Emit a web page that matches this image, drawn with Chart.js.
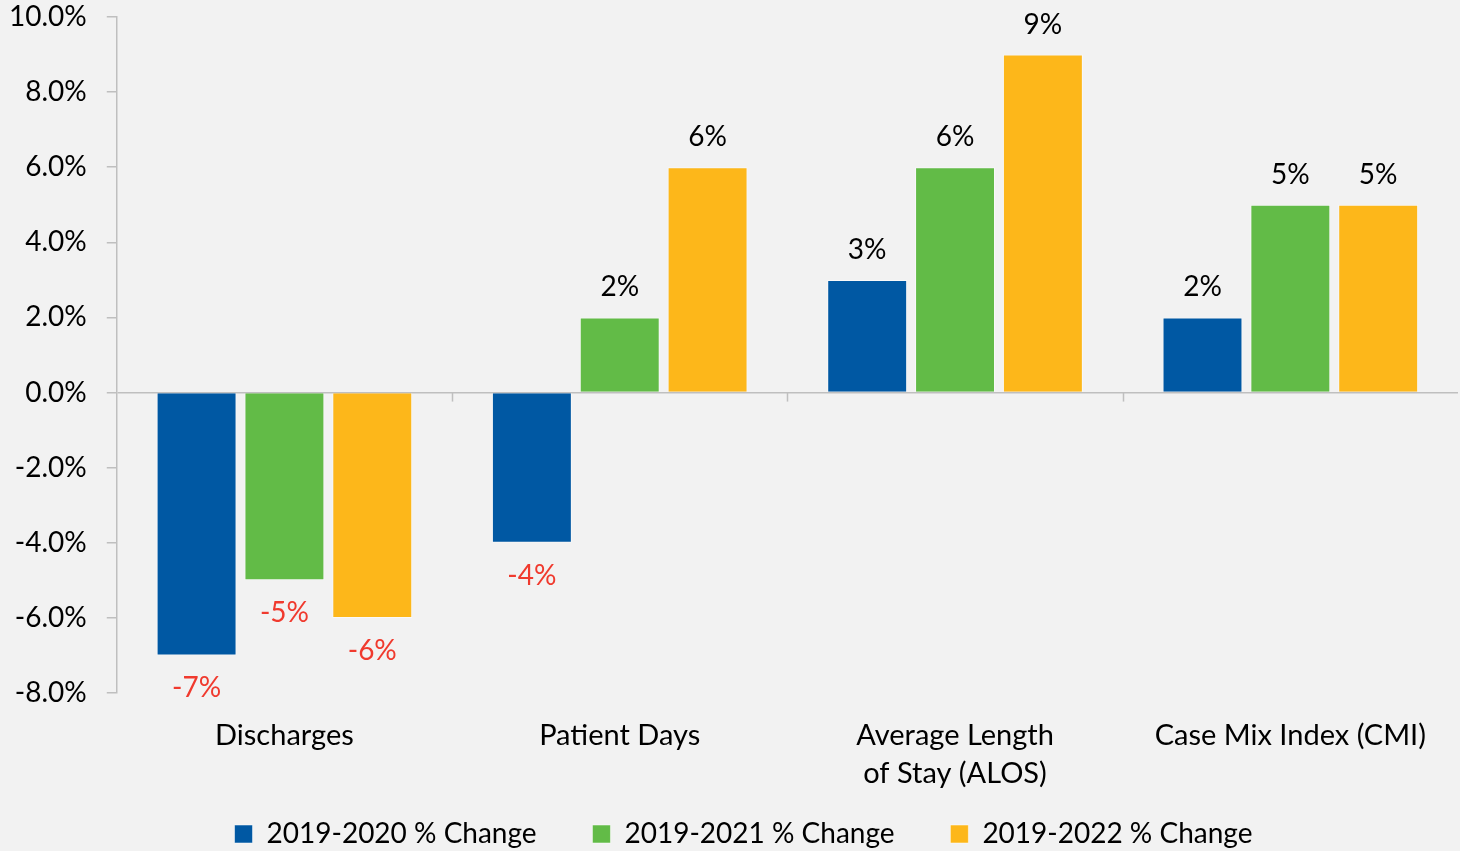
<!DOCTYPE html>
<html>
<head>
<meta charset="utf-8">
<script src="https://cdn.jsdelivr.net/npm/chart.js"></script>
<style>
  html, body { margin: 0; padding: 0; background: #f2f2f2; }
  #wrap { width: 1460px; height: 851px; }
</style>
</head>
<body>
<div id="wrap"><canvas id="myChart"></canvas></div>
<script>
let categories = ['Discharges', 'Patient Days', ['Average Length', 'of Stay (ALOS)'], 'Case Mix Index (CMI)'];
let seriesNames = ['2019-2020 % Change', '2019-2021 % Change', '2019-2022 % Change'];
let change2020 = [-7, -4, 3, 2];
let change2021 = [-5, 2, 6, 5];
let change2022 = [-6, 6, 9, 5];
let yTicks = [-8, -6, -4, -2, 0, 2, 4, 6, 8, 10];

let colorHex = ['#0058a3', '#62bb47', '#fdb71a'];
let fontFamily = 'Lato, "Open Sans", sans-serif';

// draws value labels and the category tick marks on the zero line
let labelPlugin = {
    id: 'valueLabels',
    afterLayout(chart) {
        // legend sits a bit right of the canvas centre in the original
        chart.legend.left += 20;
        chart.legend.right += 20;
    },
    afterDatasetsDraw(chart) {
        let ctx = chart.ctx;
        let x = chart.scales.x;
        let y = chart.scales.y;
        let zero = y.getPixelForValue(0);
        ctx.save();
        ctx.strokeStyle = '#bfbfbf';
        ctx.lineWidth = 1.5;
        for (let i = 0; i < categories.length - 1; i++) {
            let px = Math.round((x.getPixelForTick(i) + x.getPixelForTick(i + 1)) / 2) + 0.5;
            ctx.beginPath();
            ctx.moveTo(px, zero);
            ctx.lineTo(px, zero + 9);
            ctx.stroke();
        }
        ctx.font = '28px ' + fontFamily;
        ctx.textAlign = 'center';
        ctx.textBaseline = 'middle';
        chart.data.datasets.forEach((ds, di) => {
            let meta = chart.getDatasetMeta(di);
            meta.data.forEach((bar, i) => {
                let v = ds.data[i];
                if (v >= 0) {
                    ctx.fillStyle = '#000000';
                    ctx.fillText(v + '%', bar.x, bar.y - 30);
                } else {
                    ctx.fillStyle = '#f03a2e';
                    ctx.fillText(v + '%', bar.x, bar.y + 33);
                }
            });
        });
        ctx.restore();
    }
};

let myChart = document.getElementById('myChart').getContext('2d');
let chart = new Chart(myChart, {
    type: 'bar',
    data: {
        labels: categories,
        datasets: [
            {
                label: seriesNames[0],
                data: change2020,
                backgroundColor: colorHex[0],
                borderColor: 'rgba(255,255,255,0.5)',
                borderWidth: 1
            },
            {
                label: seriesNames[1],
                data: change2021,
                backgroundColor: colorHex[1],
                borderColor: 'rgba(255,255,255,0.5)',
                borderWidth: 1
            },
            {
                label: seriesNames[2],
                data: change2022,
                backgroundColor: colorHex[2],
                borderColor: 'rgba(255,255,255,0.5)',
                borderWidth: 1
            }
        ]
    },
    options: {
        responsive: true,
        maintainAspectRatio: false,
        animation: false,
        categoryPercentage: 0.786,
        barPercentage: 0.91,
        layout: {
            padding: { left: -11, right: 2, top: 0, bottom: -7 }
        },
        plugins: {
            legend: {
                position: 'bottom',
                labels: {
                    color: '#000000',
                    font: { family: fontFamily, size: 28 },
                    boxWidth: 18,
                    boxHeight: 18,
                    padding: 20,
                    generateLabels(chart) {
                        let items = Chart.defaults.plugins.legend.labels.generateLabels(chart);
                        items.forEach((item, i) => {
                            if (i < items.length - 1) item.text += '     ';
                        });
                        return items;
                    }
                }
            },
            tooltip: { enabled: false }
        },
        scales: {
            x: {
                grid: { display: false },
                border: { display: false },
                afterFit(scale) {
                    scale.height -= 9;
                },
                ticks: {
                    color: '#000000',
                    font: { family: fontFamily, size: 29, lineHeight: '38px' },
                    padding: 16,
                    maxRotation: 0
                }
            },
            y: {
                min: -8,
                max: 10,
                afterBuildTicks(axis) {
                    axis.ticks = yTicks.map(v => ({ value: v }));
                },
                afterFit(scale) {
                    scale.paddingTop = 17;
                },
                grid: {
                    color: c => c.tick && c.tick.value === 0 ? '#bfbfbf' : 'rgba(0,0,0,0)',
                    tickColor: '#bfbfbf',
                    tickLength: 10,
                    lineWidth: 1.5
                },
                border: { display: true, color: '#bfbfbf', width: 1.5 },
                ticks: {
                    color: '#000000',
                    font: { family: fontFamily, size: 28 },
                    padding: 20,
                    callback: v => v.toFixed(1) + '%'
                }
            }
        }
    },
    plugins: [labelPlugin]
});
</script>
</body>
</html>
